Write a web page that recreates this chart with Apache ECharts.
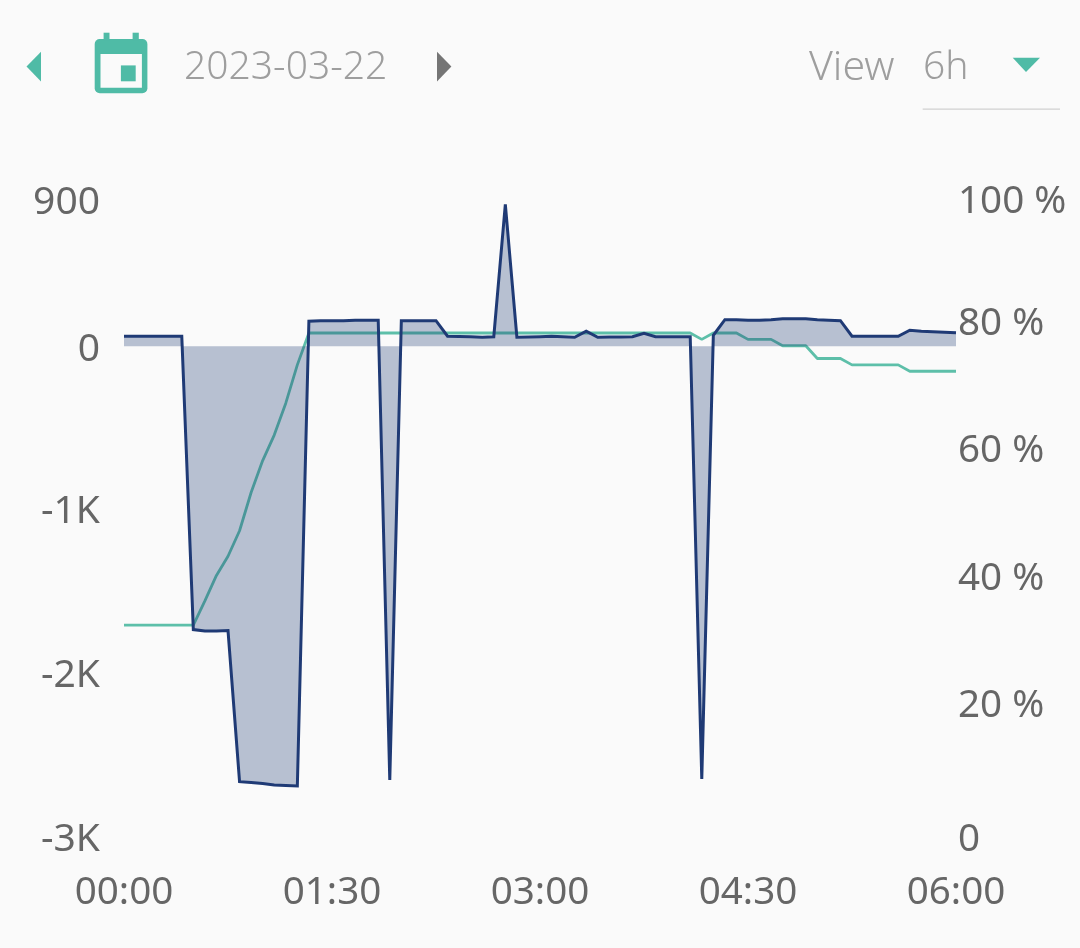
<!DOCTYPE html>
<html>
<head>
<meta charset="utf-8">
<title>Chart</title>
<script src="https://cdn.jsdelivr.net/npm/echarts@6/dist/echarts.min.js"></script>
<style>
html,body{margin:0;padding:0;background:#fafafa;}
#chart{width:1080px;height:948px;}
</style>
</head>
<body>
<div id="chart"></div>
<script>
const dateLabel = '2023-03-22';
const viewLabel = 'View';
const rangeLabel = '6h';
const timeTicks = ['00:00','00:05','00:10','00:15','00:20','00:25','00:30','00:35','00:40','00:45','00:50','00:55',
  '01:00','01:05','01:10','01:15','01:20','01:25','01:30','01:35','01:40','01:45','01:50','01:55',
  '02:00','02:05','02:10','02:15','02:20','02:25','02:30','02:35','02:40','02:45','02:50','02:55',
  '03:00','03:05','03:10','03:15','03:20','03:25','03:30','03:35','03:40','03:45','03:50','03:55',
  '04:00','04:05','04:10','04:15','04:20','04:25','04:30','04:35','04:40','04:45','04:50','04:55',
  '05:00','05:05','05:10','05:15','05:20','05:25','05:30','05:35','05:40','05:45','05:50','05:55','06:00'];
const powerValues = [61,61,61,61,61,61,-1732,-1741,-1741,-1738,-2662,-2667,-2673,-2682,-2685,-2688,
  153,156,156,156,159,159,159,-2651,156,156,156,156,61,59,58,55,58,867,55,56,58,61,58,55,92,55,56,56,58,79,58,58,58,58,
  -2645,67,162,162,159,159,162,168,168,168,162,159,156,61,61,61,61,61,98,92,89,86,82];
const chargeValues = [33.2,33.2,33.2,33.2,33.2,33.2,33.2,37,41,44,48,54,59,63,68,74,79,79,79,79,79,79,79,79,79,79,79,79,79,79,79,79,79,79,79,79,
  79,79,79,79,79,79,79,79,79,79,79,79,79,79,78,79,79,79,78,78,78,77,77,77,75,75,75,74,74,74,74,74,73,73,73,73,73];
const leftTicks = {'900':'900','0':'0','-1000':'-1K','-2000':'-2K','-3000':'-3K'};

const NAVY = '#1f3a75', GREEN = '#5dbfa9', TEAL = '#4fbba6', GREY = '#9e9e9e', LABEL = '#666666';
const FONT = '"Noto Sans","Open Sans",sans-serif';
const SIZE = 38.6;
const chart = echarts.init(document.getElementById('chart'), null, {renderer:'canvas'});
const headText = (x, y, text, size) => ({type:'text', x, y, style:{text, fill:GREY, font:'300 ' + size + 'px ' + FONT, textVerticalAlign:'middle'}});
chart.setOption({
  animation:false,
  backgroundColor:'#fafafa',
  grid:{left:124,right:124,top:199,bottom:111,containLabel:false},
  xAxis:{
    type:'category',data:timeTicks,boundaryGap:false,
    axisLine:{show:false},axisTick:{show:false},splitLine:{show:false},
    axisLabel:{interval:(i)=>i%18===0,color:LABEL,fontSize:SIZE,fontFamily:FONT,margin:37,hideOverlap:false,showMinLabel:true,showMaxLabel:true}
  },
  yAxis:[{
    type:'value',min:-3000,max:900,interval:1000,
    axisLine:{show:false},axisTick:{show:false},splitLine:{show:false},
    axisLabel:{color:LABEL,fontSize:SIZE,fontFamily:FONT,margin:24,
      formatter:(v)=>{const t=leftTicks[String(v)]||'';return (v>=0?'{t|':'{b|')+t+'}';},
      rich:{
        t:{color:LABEL,fontSize:39,fontFamily:FONT,padding:[8,0,0,0]},
        b:{color:LABEL,fontSize:39,fontFamily:FONT,padding:[5,0,0,0]}
      }}
  },{
    type:'value',min:0,max:100,interval:20,
    axisLine:{show:false},axisTick:{show:false},splitLine:{show:false},
    axisLabel:{color:LABEL,fontSize:SIZE,fontFamily:FONT,margin:2,
      formatter:(v)=>(v===0?'{e|0}':v===100?'{e|100 %}':'{m|'+v+' %}'),
      rich:{
        e:{color:LABEL,fontSize:SIZE,fontFamily:FONT,padding:[7,0,0,0]},
        m:{color:LABEL,fontSize:SIZE,fontFamily:FONT,padding:[0,0,6,0]}
      }}
  }],
  series:[
    {name:'Charge',type:'line',yAxisIndex:1,data:chargeValues,symbol:'none',z:2,
      lineStyle:{color:GREEN,width:2.8},itemStyle:{color:GREEN}},
    {name:'Power fill',type:'line',yAxisIndex:0,data:powerValues,symbol:'none',z:3,
      lineStyle:{width:0,opacity:0},areaStyle:{color:'rgba(31,58,117,0.3)',origin:0,opacity:1},itemStyle:{color:NAVY}},
    {name:'Power',type:'line',yAxisIndex:0,data:powerValues,symbol:'none',z:4,
      lineStyle:{color:NAVY,width:3,join:'miter'},itemStyle:{color:NAVY}}
  ],
  graphic:[
    {type:'polygon',shape:{points:[[26.5,66.5],[41,51.7],[41,81.6]]},style:{fill:TEAL}},
    {type:'rect',shape:{x:94.7,y:39,width:52.7,height:54.3,r:5},style:{fill:TEAL}},
    {type:'rect',shape:{x:103.6,y:32.7,width:5.9,height:8},style:{fill:TEAL}},
    {type:'rect',shape:{x:132.6,y:32.7,width:6.2,height:8},style:{fill:TEAL}},
    {type:'rect',shape:{x:100.5,y:54,width:41.4,height:33.8},style:{fill:'#fafafa'}},
    {type:'rect',shape:{x:120.9,y:65.4,width:14.8,height:15.9},style:{fill:TEAL}},
    headText(184,68,dateLabel,39),
    {type:'polygon',shape:{points:[[437,51.7],[451.4,66.5],[437,81.6]]},style:{fill:'#757575'}},
    headText(809,68,viewLabel,41),
    headText(923,68,rangeLabel,39),
    {type:'polygon',shape:{points:[[1012.7,57.7],[1040,57.7],[1026,72]]},style:{fill:TEAL}},
    {type:'rect',shape:{x:922.7,y:108.4,width:137.3,height:1.4},style:{fill:'#d0d0d0'}}
  ]
});
</script>
</body>
</html>
